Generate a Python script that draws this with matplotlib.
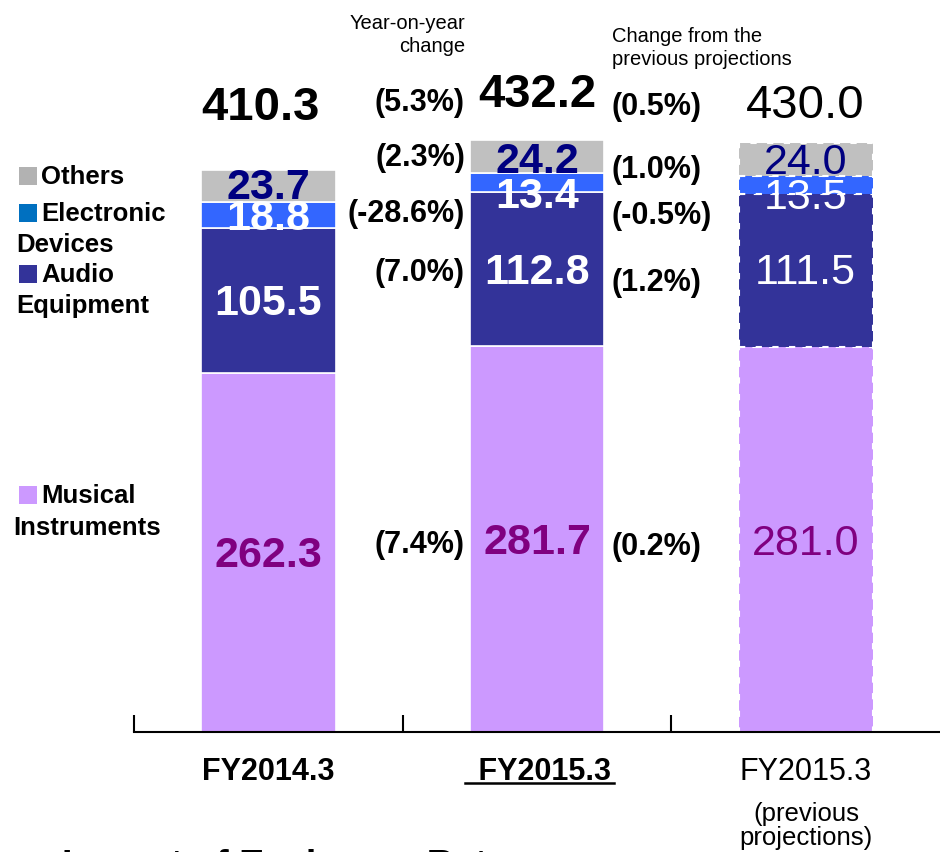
import matplotlib
matplotlib.use("Agg")
import matplotlib.pyplot as plt
from matplotlib.patches import Rectangle
from matplotlib.lines import Line2D
import numpy as np

plt.rcParams['font.family'] = ['Liberation Sans', 'DejaVu Sans']

# ---------------- data ----------------
categories = ["FY2014.3", "FY2015.3", "FY2015.3\n(previous projections)"]
musical = [262.3, 281.7, 281.0]
audio = [105.5, 112.8, 111.5]
electronic = [18.8, 13.4, 13.5]
others = [23.7, 24.2, 24.0]
totals = [410.3, 432.2, 430.0]
yoy_change = ["(5.3%)", "(2.3%)", "(-28.6%)", "(7.0%)", "(7.4%)"]
proj_change = ["(0.5%)", "(1.0%)", "(-0.5%)", "(1.2%)", "(0.2%)"]
segment_names = ["Musical\nInstruments", "Audio\nEquipment", "Electronic\nDevices", "Others"]

# ---------------- style ----------------
c_mus = "#CC99FF"
c_aud = "#333399"
c_ele = "#3366FF"
c_oth = "#C0C0C0"
W, H = 940, 853
fig = plt.figure(figsize=(W / 100, H / 100), dpi=100)

base_px = 733
ax = fig.add_axes([134 / W, (H - base_px) / H, (W - 134) / W, base_px / H])
scale = 1.37  # px per unit
ax.set_xlim(-0.5, 2.5)
ax.set_ylim(0, base_px / scale)

def py2d(py):
    return (base_px - py) / scale

def px2d(px):
    return (px - 134) / ((W - 134) / 3) - 0.5

x = np.arange(3)
width = 0.5
series = [musical, audio, electronic, others]
colors = [c_mus, c_aud, c_ele, c_oth]
bottoms = np.zeros(3)
mids = []
for vals, col in zip(series, colors):
    vals = np.array(vals)
    for i in range(3):
        dashed = (i == 2)
        ax.bar(x[i], vals[i], width, bottom=bottoms[i], color=col,
               edgecolor="white", linewidth=1.5 if dashed else 1.2,
               linestyle=(0, (3, 5)) if dashed else "solid", zorder=2)
    mids.append(bottoms + vals / 2)
    bottoms = bottoms + vals

# segment labels
label_colors = ["#800080", "white", "white", "#000080"]
seg_offsets_px = [[3, 3, 3], [3, 3, 1], [3, 14, 12], [1, 4, 3]]
for s, (vals, lc, offs) in enumerate(zip(series, label_colors, seg_offsets_px)):
    for i in range(3):
        ax.text(x[i], mids[s][i] - offs[i] / scale, f"{vals[i]:.1f}", ha="center", va="center",
                fontsize=31, color=lc, fontweight="normal" if i == 2 else "bold", zorder=3)

# totals
tot_offsets_px = [63, 46, 38]
for i in range(3):
    ax.text(x[i] - (0.03 if i == 0 else 0), totals[i] + tot_offsets_px[i] / scale, f"{totals[i]:.1f}",
            ha="center", va="center", fontsize=34, color="black",
            fontweight="normal" if i == 2 else "bold")

# change columns
yoy_y = [103, 158, 214, 273, 545]
proj_y = [107, 170, 216, 283, 547]
for t, yy in zip(yoy_change, yoy_y):
    ax.text(px2d(465), py2d(yy), t, ha="right", va="center", fontsize=22, fontweight="bold")
for t, yy in zip(proj_change, proj_y):
    ax.text(px2d(612), py2d(yy), t, ha="left", va="center", fontsize=22, fontweight="bold")

fig.text(465 / W, 1 - 35 / H, "Year-on-year\nchange", ha="right", va="center", fontsize=14.5,
         linespacing=1.3)
fig.text(612 / W, 1 - 48 / H, "Change from the\nprevious projections", ha="left", va="center",
         fontsize=14.5, linespacing=1.3)

# axes styling
for sp in ["left", "right", "top"]:
    ax.spines[sp].set_visible(False)
ax.spines["bottom"].set_linewidth(1.5)
ax.set_yticks([])
ax.set_xticks([-0.5, 0.5, 1.5])
ax.set_xticklabels([])
ax.tick_params(axis="x", direction="in", length=12, width=1.5)

# category labels
cat_y = 1 - 772 / H
fig.text(268 / W, cat_y, categories[0], ha="center", va="center", fontsize=22, fontweight="bold")
fig.text(540 / W, cat_y, " " + categories[1], ha="center", va="center", fontsize=22, fontweight="bold")
fig.add_artist(Line2D([465 / W, 614 / W], [1 - 784 / H, 1 - 784 / H], color="black", lw=1.8))
cat3_main, cat3_sub = categories[2].split("\n")
fig.text(806 / W, cat_y, cat3_main, ha="center", va="center", fontsize=22)
sub_words = cat3_sub.split(" ")
fig.text(806 / W, 1 - 826 / H, sub_words[0] + "\n" + sub_words[1], ha="center", va="center",
         fontsize=18.5, linespacing=1.0)

# legend (left side)
leg_items = [
    (segment_names[3], "#B2B2B2", 177, 31),
    (segment_names[2], "#0070C0", 214, 31),
    (segment_names[1], c_aud, 275, 31),
    (segment_names[0], c_mus, 496, 32),
]
for name, col, yc, gap in leg_items:
    first, *rest = name.split("\n")
    fig.add_artist(Rectangle((19 / W, 1 - (yc + 9) / H), 18 / W, 18 / H, transform=fig.transFigure,
                             facecolor=col, edgecolor="none"))
    fig.text(41 / W, 1 - yc / H, first, ha="left", va="center", fontsize=18.5, fontweight="bold")
    for k, r in enumerate(rest):
        fig.text((13 if name.startswith("Musical") else 16) / W, 1 - (yc + gap * (k + 1)) / H, r,
                 ha="left", va="center", fontsize=18.5, fontweight="bold")

# cut-off heading at bottom (cut by the picture edge, as in the reference)
fig.text(62 / W, -(877 - H) / H, "Impact of Exchange Rate", ha="left", va="baseline",
         fontsize=27, fontweight="bold")

fig.savefig("out.png", dpi=100)
